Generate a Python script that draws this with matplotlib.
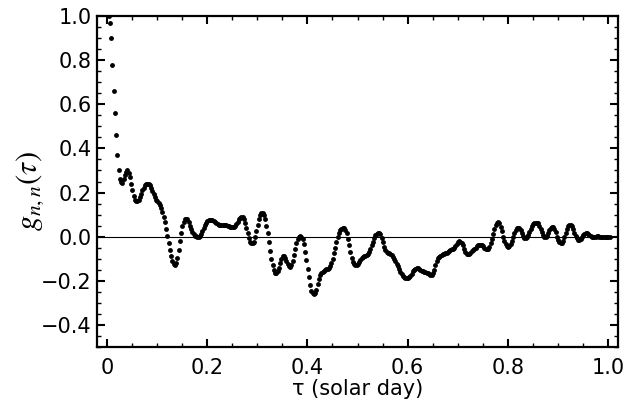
import numpy as np
import matplotlib
matplotlib.use("Agg")
import matplotlib.pyplot as plt
from matplotlib.ticker import MultipleLocator

# lag step in solar days
dtau = 0.0025

# g_nn(tau), one list per 0.1 day
g_00 = [1.00, 0.97, 0.90, 0.78, 0.66, 0.56, 0.46, 0.37, 0.30, 0.26,
        0.25, 0.245, 0.26, 0.28, 0.295, 0.30, 0.29, 0.27, 0.24, 0.21,
        0.185, 0.168, 0.16, 0.16, 0.168, 0.18, 0.195, 0.21, 0.222, 0.232,
        0.238, 0.24, 0.238, 0.232, 0.222, 0.208, 0.192, 0.178, 0.168, 0.16]
g_01 = [0.152, 0.143, 0.13, 0.112, 0.09, 0.065, 0.035, 0.003, -0.03, -0.062,
        -0.09, -0.11, -0.123, -0.127, -0.118, -0.095, -0.06, -0.02, 0.018, 0.048,
        0.068, 0.078, 0.082, 0.078, 0.066, 0.05, 0.034, 0.02, 0.01, 0.004,
        0.001, 0.0, 0.0, 0.003, 0.012, 0.025, 0.04, 0.053, 0.063, 0.07]
g_02 = [0.075, 0.077, 0.077, 0.075, 0.071, 0.066, 0.061, 0.057, 0.055, 0.054,
        0.054, 0.054, 0.054, 0.053, 0.052, 0.05, 0.048, 0.046, 0.045, 0.045,
        0.046, 0.05, 0.058, 0.068, 0.078, 0.085, 0.088, 0.087, 0.078, 0.062,
        0.04, 0.015, -0.008, -0.022, -0.03, -0.03, -0.022, -0.002, 0.025, 0.055]
g_03 = [0.08, 0.097, 0.105, 0.105, 0.097, 0.078, 0.05, 0.015, -0.025, -0.065,
        -0.1, -0.13, -0.152, -0.163, -0.165, -0.158, -0.14, -0.118, -0.1, -0.09,
        -0.088, -0.095, -0.11, -0.125, -0.133, -0.136, -0.13, -0.112, -0.085, -0.055,
        -0.03, -0.012, -0.002, 0.002, 0.0, -0.012, -0.035, -0.068, -0.105, -0.145]
g_04 = [-0.185, -0.22, -0.245, -0.257, -0.26, -0.255, -0.24, -0.215, -0.19, -0.172,
        -0.165, -0.16, -0.156, -0.152, -0.148, -0.145, -0.142, -0.135, -0.12, -0.1,
        -0.075, -0.05, -0.025, -0.003, 0.015, 0.028, 0.036, 0.04, 0.04, 0.032,
        0.015, -0.01, -0.04, -0.07, -0.095, -0.113, -0.123, -0.127, -0.127, -0.122]
g_05 = [-0.113, -0.104, -0.097, -0.093, -0.09, -0.088, -0.085, -0.08, -0.07, -0.057,
        -0.04, -0.022, -0.005, 0.007, 0.014, 0.017, 0.017, 0.01, -0.005, -0.025,
        -0.045, -0.06, -0.068, -0.072, -0.075, -0.08, -0.085, -0.092, -0.1, -0.11,
        -0.122, -0.135, -0.148, -0.16, -0.17, -0.178, -0.184, -0.187, -0.188, -0.187]
g_06 = [-0.184, -0.177, -0.168, -0.158, -0.15, -0.145, -0.143, -0.143, -0.145, -0.15,
        -0.155, -0.158, -0.16, -0.162, -0.164, -0.167, -0.17, -0.172, -0.172, -0.165,
        -0.15, -0.13, -0.11, -0.095, -0.092, -0.086, -0.082, -0.08, -0.078, -0.075,
        -0.072, -0.068, -0.064, -0.06, -0.058, -0.055, -0.05, -0.042, -0.033, -0.025]
g_07 = [-0.021, -0.022, -0.028, -0.04, -0.055, -0.068, -0.077, -0.08, -0.079, -0.073,
        -0.066, -0.062, -0.058, -0.05, -0.043, -0.038, -0.036, -0.036, -0.038, -0.043,
        -0.05, -0.055, -0.057, -0.054, -0.045, -0.03, -0.01, 0.013, 0.035, 0.052,
        0.062, 0.065, 0.06, 0.045, 0.024, 0.0, -0.02, -0.035, -0.043, -0.045]
g_08 = [-0.042, -0.033, -0.018, 0.0, 0.017, 0.03, 0.038, 0.04, 0.038, 0.03,
        0.018, 0.005, -0.004, -0.006, -0.003, 0.008, 0.022, 0.036, 0.048, 0.056,
        0.06, 0.063, 0.063, 0.06, 0.05, 0.036, 0.02, 0.007, 0.0, 0.0,
        0.005, 0.017, 0.03, 0.04, 0.045, 0.044, 0.035, 0.02, 0.0, -0.016]
g_09 = [-0.026, -0.03, -0.028, -0.018, -0.002, 0.017, 0.035, 0.048, 0.054, 0.054,
        0.048, 0.035, 0.018, 0.003, -0.008, -0.013, -0.014, -0.01, -0.002, 0.007,
        0.014, 0.017, 0.016, 0.012, 0.006, 0.001, -0.002, -0.003, -0.002, 0.0,
        0.001, 0.001, 0.0, 0.0, 0.0, 0.0, 0.0, 0.0, 0.0, 0.0, 0.0]

g_nn = np.array(g_00 + g_01 + g_02 + g_03 + g_04 + g_05 + g_06 + g_07 + g_08 + g_09)
tau = np.arange(len(g_nn)) * dtau + 0.003

xticks = [0, 0.2, 0.4, 0.6, 0.8, 1.0]
xticklabels = ["0", "0.2", "0.4", "0.6", "0.8", "1.0"]
yticks = [-0.4, -0.2, 0.0, 0.2, 0.4, 0.6, 0.8, 1.0]
yticklabels = ["\u22120.4", "\u22120.2", "0.0", "0.2", "0.4", "0.6", "0.8", "1.0"]

plt.rcParams['font.family'] = ['DejaVu Sans']
plt.rcParams['mathtext.fontset'] = 'stix'

fig = plt.figure(figsize=(6.3, 4.13), dpi=100)
ax = fig.add_axes([0.154, 0.160, 0.827, 0.801])

ax.axhline(0, color='black', lw=0.8, zorder=1)
ax.plot(tau, g_nn, 'o', color='black', ms=3.5, mec='none', zorder=2)

ax.set_xlim(-0.02, 1.02)
ax.set_ylim(-0.5, 1.0)
ax.set_xticks(xticks)
ax.set_xticklabels(xticklabels)
ax.set_yticks(yticks)
ax.set_yticklabels(yticklabels)
ax.xaxis.set_minor_locator(MultipleLocator(0.05))
ax.yaxis.set_minor_locator(MultipleLocator(0.05))
ax.tick_params(which='both', direction='in', top=True, right=True, labelsize=15)
ax.tick_params(axis='x', which='major', pad=8)
ax.tick_params(axis='y', which='major', pad=4)
ax.tick_params(which='major', length=6, width=1.5)
ax.tick_params(which='minor', length=3, width=1.0)
for s in ax.spines.values():
    s.set_linewidth(1.6)

ax.set_xlabel('\u03c4 (solar day)', fontsize=15, labelpad=1)
ax.set_ylabel(r'$g_{n,n}(\tau)$', fontsize=22)
ax.yaxis.set_label_coords(-0.098, 0.47)

fig.savefig('out.png', dpi=100)
